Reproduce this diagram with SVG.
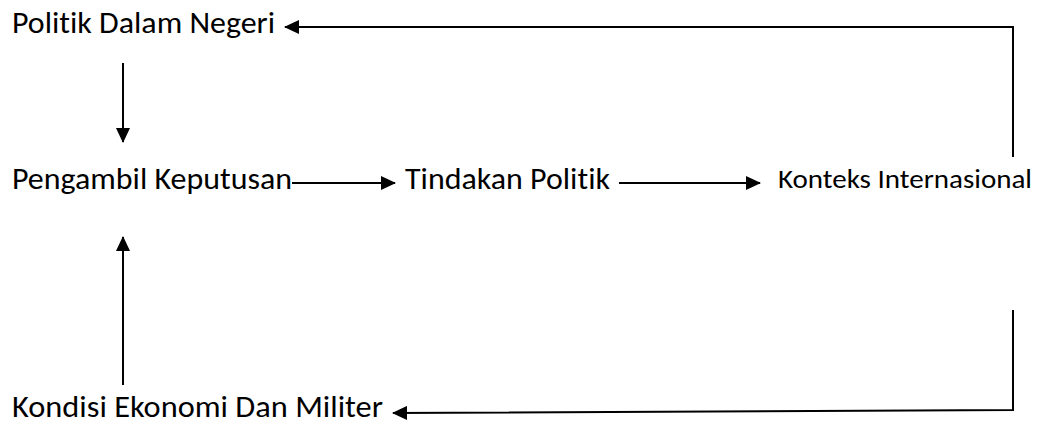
<svg xmlns="http://www.w3.org/2000/svg" width="1042" height="427" viewBox="0 0 1042 427">
<defs>
<marker id="ah" markerWidth="15" markerHeight="14" refX="14" refY="7" orient="auto" markerUnits="userSpaceOnUse">
<path d="M0,0 L15,7 L0,14 Z" fill="#000"/>
</marker>
<style>
.t{font-family:Carlito,"Open Sans","Liberation Sans",sans-serif;font-size:30px;fill:#000;font-variant-ligatures:none;font-feature-settings:"liga" 0}
.s{font-size:26px}
.c{stroke:#000;stroke-width:2;fill:none}
</style>
</defs>
<rect width="1042" height="427" fill="#fff"/>
<g id="n-politik"><text class="t" x="12" y="33" textLength="263" lengthAdjust="spacingAndGlyphs">Politik Dalam Negeri</text></g>
<g id="n-pengambil"><text class="t" x="12" y="189" textLength="280" lengthAdjust="spacingAndGlyphs">Pengambil Keputusan</text></g>
<g id="n-tindakan"><text class="t" x="405" y="189" textLength="205" lengthAdjust="spacingAndGlyphs">Tindakan Politik</text></g>
<g id="n-konteks"><text class="t s" x="778" y="188" textLength="254" lengthAdjust="spacingAndGlyphs">Konteks Internasional</text></g>
<g id="n-kondisi"><text class="t" x="12" y="417" textLength="371" lengthAdjust="spacingAndGlyphs">Kondisi Ekonomi Dan Militer</text></g>
<g id="connectors">
<polyline class="c" points="1013,157 1013,27 285,27" marker-end="url(#ah)"/>
<line class="c" x1="123" y1="63" x2="123" y2="142" marker-end="url(#ah)"/>
<line class="c" x1="292" y1="183" x2="395" y2="183" marker-end="url(#ah)"/>
<line class="c" x1="619" y1="183" x2="760" y2="183" marker-end="url(#ah)"/>
<line class="c" x1="123" y1="385" x2="123" y2="237" marker-end="url(#ah)"/>
<polyline class="c" points="1013,310 1013,410 393,413" marker-end="url(#ah)"/>
</g>
</svg>
